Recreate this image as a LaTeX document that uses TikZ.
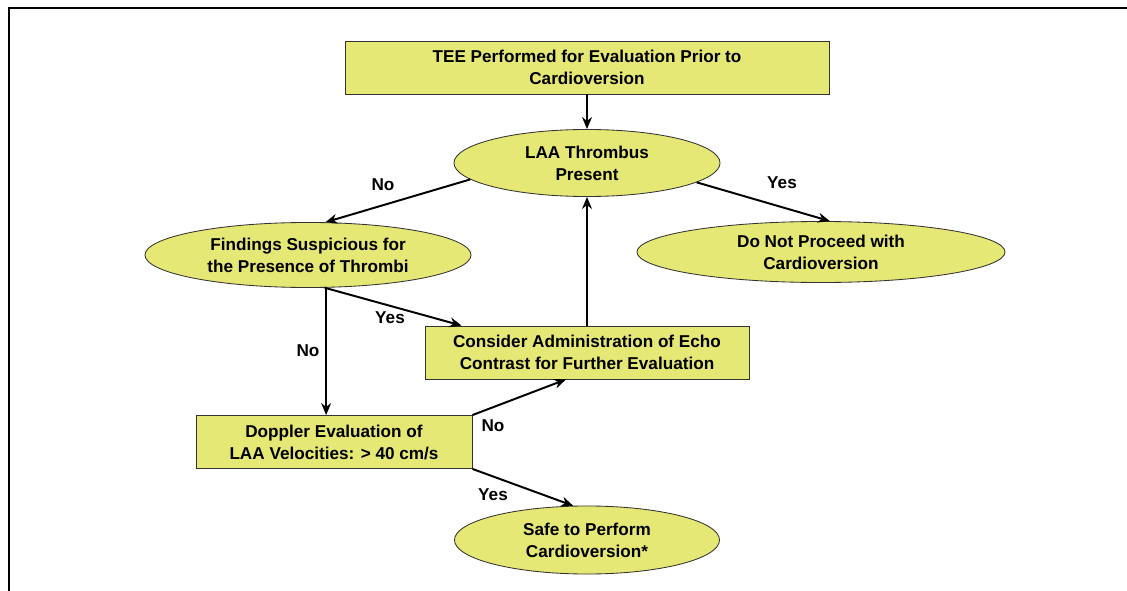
\documentclass[tikz,border=0pt]{standalone}
\usepackage{fontspec}
\setmainfont{Liberation Sans}
\usetikzlibrary{shapes.geometric, arrows.meta}

\definecolor{boxyellow}{RGB}{229,232,116}

\tikzset{
	stepbox/.style={draw=black!80, line width=0.6pt, fill=boxyellow, rectangle, align=center, inner sep=0pt, font=\bfseries\fontsize{12.2}{15.6}\selectfont},
	oval/.style={draw=black!80, line width=0.6pt, fill=boxyellow, ellipse, align=center, inner sep=0pt, font=\bfseries\fontsize{12.2}{15.6}\selectfont},
	flow/.style={line width=1.4pt, -{Stealth[length=8.5pt, width=7pt]}},
	lbl/.style={font=\bfseries\fontsize{12.2}{14}\selectfont, inner sep=0pt}
}

\begin{document}
\begin{tikzpicture}[x=0.025cm, y=-0.025cm]
		\useasboundingbox (0,0) rectangle (1127,591);

		% Frame
		\draw[line width=1.1pt] (9,591) -- (9,8) -- (1127,8);

		% Boxes and ovals
		\node[stepbox, minimum width=12.1cm, minimum height=1.325cm] (tee) at (587,67.5) {TEE Performed for Evaluation Prior to\\Cardioversion};
		\node[oval, minimum width=6.65cm, minimum height=1.675cm] (laa) at (587,163) {LAA Thrombus\\Present};
		\node[oval, minimum width=8.15cm, minimum height=1.625cm] (find) at (308,255) {Findings Suspicious for\\the Presence of Thrombi};
		\node[oval, minimum width=9.2cm, minimum height=1.525cm] (dnp) at (821,252) {Do Not Proceed with\\Cardioversion};
		\node[stepbox, minimum width=8.1cm, minimum height=1.325cm] (con) at (587,352.5) {Consider Administration of Echo\\Contrast for Further Evaluation};
		\node[stepbox, minimum width=6.9cm, minimum height=1.325cm] (dop) at (334,442) {Doppler Evaluation of\\LAA Velocities: > 40 cm/s};
		\node[oval, minimum width=6.625cm, minimum height=1.7cm] (safe) at (587,540) {Safe to Perform\\Cardioversion*};

		% Connectors
		\draw[flow] (tee) -- (laa);
		\draw[flow] (laa.188) -- (find.62);
		\draw[flow] (laa.350) -- (dnp.74);
		\draw[flow] (find.299) -- (find.299 |- dop.north);
		\draw[flow] (find.297) -- ([xshift=0.925cm]con.north west);
		\draw[flow] (con.north) -- (laa.south);
		\draw[flow] (dop.north east) -- ([xshift=-0.525cm]con.south);
		\draw[flow] (dop.south east) -- (safe.112);

		% Labels
		\node[lbl] (noA) at (383,185) {No};
		\node[lbl] (yesA) at (782,183) {Yes};
		\node[lbl] (yesB) at (390,318) {Yes};
		\node[lbl] (noB) at (308,351) {No};
		\node[lbl] (noC) at (493,426) {No};
		\node[lbl] (yesC) at (493,495) {Yes};
	\end{tikzpicture}
\end{document}
